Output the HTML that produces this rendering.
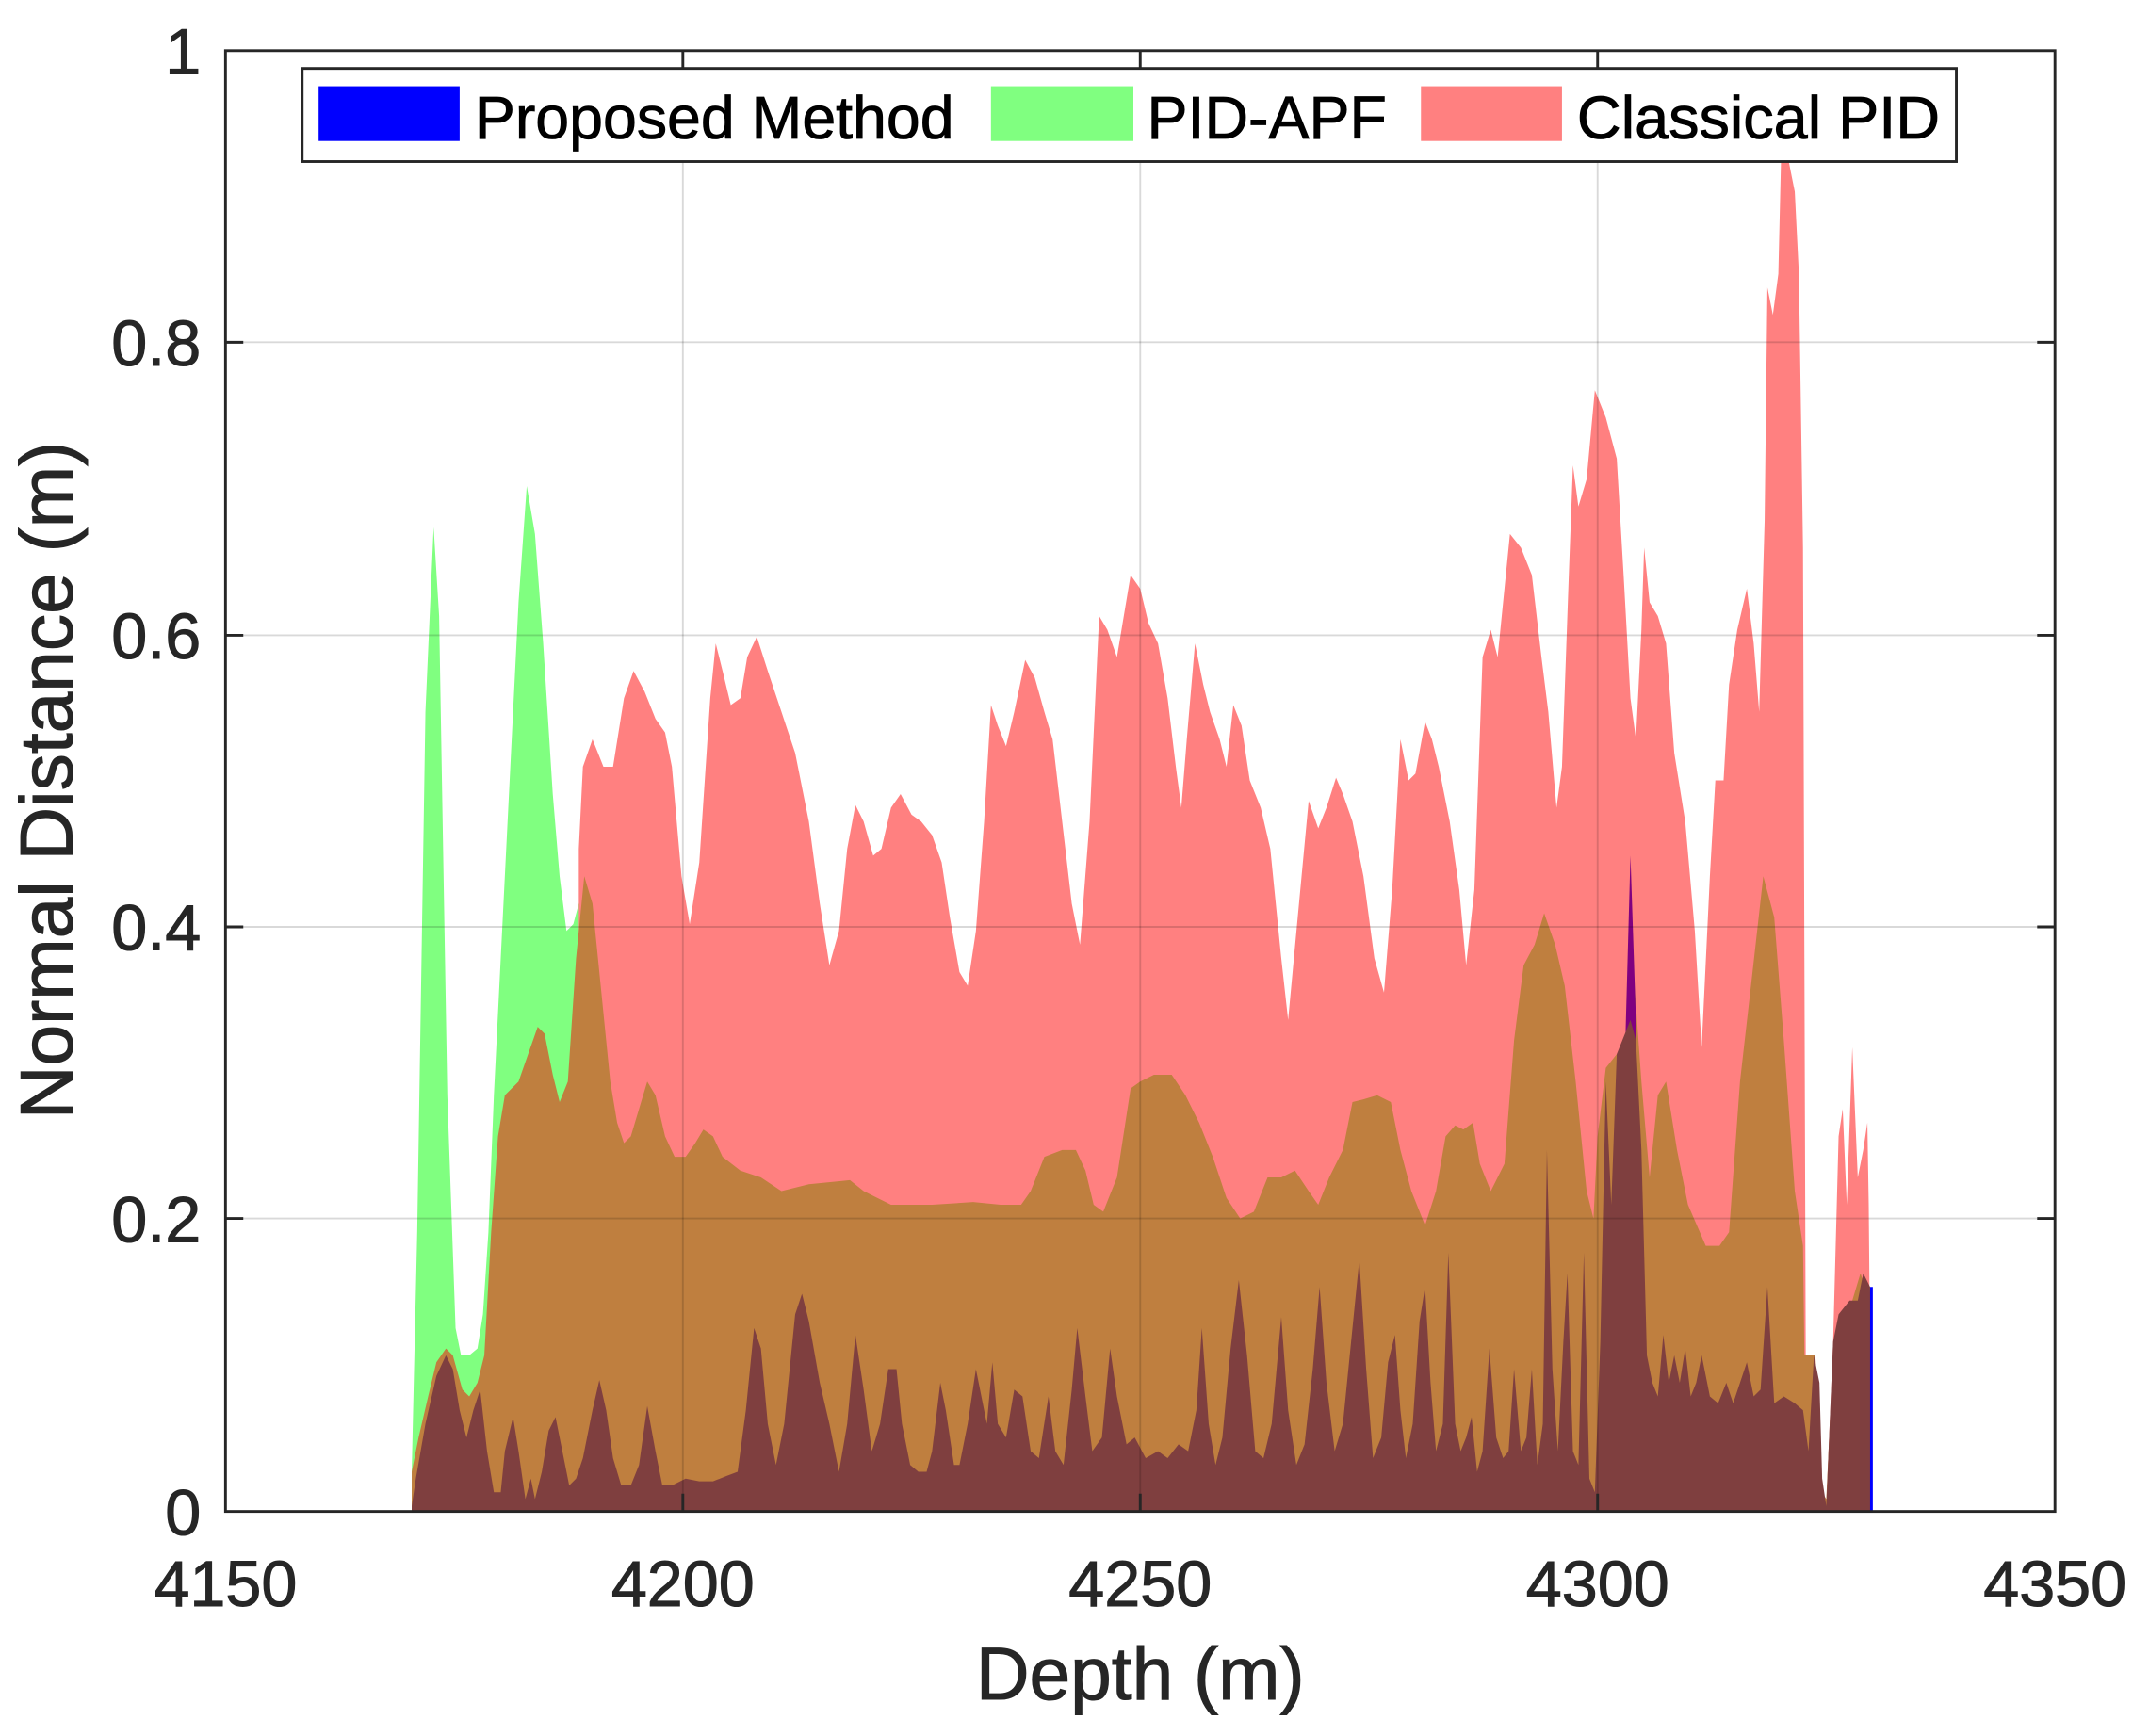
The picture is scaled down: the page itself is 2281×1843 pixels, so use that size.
<!DOCTYPE html>
<html><head><meta charset="utf-8"><style>html,body{margin:0;padding:0;background:#fff;}svg{display:block;}</style></head>
<body>
<svg width="2281" height="1843" viewBox="0 0 1568 1268" xmlns="http://www.w3.org/2000/svg" font-family="Liberation Sans, Arial, sans-serif">
<rect width="1568" height="1268" fill="#fff"/>
<polygon fill="#80ff80" points="300,1104 300,1075 304,900 310,520 316,385 320,450 326,800 332,970 336,990 342,990 348,985 352,960 356,900 360,800 365,700 372,560 378,440 384,355 390,390 396,470 403,580 408,640 413,680 418,675 422,660 426,640 426,1104"/>
<polygon fill="#ff8080" points="422,1104 422,620 425,560 432,540 440,560 447,560 455,510 462,490 470,505 478,525 485,535 490,560 497,640 503,675 510,630 518,510 522,470 527,490 533,515 540,510 545,480 552,465 560,490 570,520 580,550 590,600 598,660 605,705 612,680 618,620 624,588 630,600 637,625 643,620 650,590 657,580 665,595 672,600 680,610 687,630 693,670 700,710 706,720 712,680 718,600 723,515 728,530 734,545 740,520 748,482 755,495 762,520 768,540 775,600 782,660 788,690 795,600 802,450 808,460 815,480 820,450 825,420 832,430 838,455 845,470 852,510 858,560 862,590 866,540 872,470 878,500 883,520 890,540 895,560 900,515 906,530 912,570 920,590 927,620 935,700 940,745 947,670 955,585 962,605 968,590 975,568 980,580 987,600 995,640 1003,700 1010,725 1016,650 1022,540 1028,570 1033,565 1040,527 1045,540 1050,560 1058,600 1065,650 1070,705 1076,650 1082,480 1088,460 1093,480 1098,430 1102,390 1110,400 1118,420 1125,480 1130,520 1136,590 1140,560 1145,420 1148,340 1152,370 1158,350 1164,285 1172,305 1180,335 1185,420 1190,510 1194,540 1198,460 1200,400 1204,440 1210,450 1216,470 1222,550 1230,600 1237,680 1242,765 1248,640 1252,570 1258,570 1262,500 1268,460 1275,430 1280,470 1284,520 1288,380 1290,210 1294,230 1298,200 1300,115 1305,115 1310,140 1313,200 1316,400 1318,990 1325,990 1330,1090 1333,1100 1338,980 1342,830 1345,810 1348,880 1352,765 1356,860 1360,840 1363,820 1364,880 1366,1104"/>
<polygon fill="#bf7f3f" points="300,1104 300,1075 305,1050 312,1020 318,995 325,985 330,990 337,1015 342,1020 348,1010 353,990 358,900 363,830 368,800 373,795 378,790 385,770 392,750 397,755 403,785 408,805 414,790 420,700 426,640 432,660 438,720 445,790 450,820 455,835 460,830 466,810 472,790 478,800 485,830 492,845 500,845 507,835 513,825 520,830 527,845 540,855 555,860 570,870 590,865 620,862 630,870 650,880 680,880 710,878 730,880 745,880 752,870 762,845 775,840 785,840 792,855 798,880 805,885 815,860 825,795 832,790 842,785 855,785 865,800 875,820 885,845 895,875 905,890 915,885 925,860 935,860 945,855 955,870 962,880 970,860 980,840 987,805 995,803 1005,800 1015,805 1022,840 1030,870 1040,895 1048,870 1055,830 1062,822 1068,825 1075,820 1080,850 1088,870 1098,850 1105,760 1112,705 1120,690 1127,667 1135,690 1142,720 1150,790 1158,870 1163,890 1166,830 1172,780 1180,770 1186,760 1193,720 1198,790 1204,860 1210,800 1216,790 1224,840 1232,880 1245,910 1255,910 1262,900 1270,790 1278,720 1287,640 1295,670 1302,760 1310,870 1316,910 1317,990 1325,990 1330,1090 1333,1095 1338,990 1345,960 1352,950 1358,930 1364,950 1366,1104"/>
<polygon fill="#800080" points="1186,770 1190,625 1194,745 1194,800 1186,800"/>
<polygon fill="#7f3f3f" points="300,1104 300,1100 303,1080 310,1040 318,1005 325,990 330,1000 335,1030 340,1050 345,1030 350,1015 355,1060 360,1090 365,1090 368,1060 374,1035 378,1060 383,1095 387,1080 390,1095 395,1075 400,1045 405,1035 410,1060 415,1085 420,1080 425,1065 432,1030 437,1008 442,1030 447,1065 453,1085 460,1085 466,1070 472,1027 478,1060 483,1085 490,1085 500,1080 510,1082 520,1082 530,1078 538,1075 544,1030 550,970 555,985 560,1040 566,1070 572,1040 580,960 585,945 590,965 598,1010 605,1040 612,1075 618,1040 624,975 630,1015 636,1060 642,1040 648,1000 654,1000 658,1040 664,1070 670,1075 676,1075 680,1060 686,1010 690,1030 696,1070 700,1070 706,1040 712,1000 716,1020 720,1040 724,995 728,1040 734,1050 740,1015 746,1020 752,1060 758,1065 765,1020 770,1060 776,1070 782,1015 786,970 792,1020 797,1060 804,1050 810,985 815,1020 822,1055 828,1050 836,1065 845,1060 852,1065 860,1055 867,1060 873,1030 877,970 882,1040 887,1070 892,1050 898,985 904,935 910,990 916,1060 922,1065 928,1040 935,962 940,1030 946,1070 952,1055 958,1000 963,940 968,1010 974,1060 980,1040 986,980 992,920 997,1000 1002,1065 1008,1050 1013,995 1018,975 1022,1030 1026,1065 1031,1040 1036,965 1040,940 1044,1010 1048,1060 1053,1040 1057,915 1062,1040 1066,1060 1070,1050 1074,1035 1078,1075 1082,1060 1087,985 1092,1050 1097,1065 1101,1060 1105,1000 1110,1060 1114,1050 1118,1000 1122,1070 1126,1040 1129,840 1133,1000 1137,1060 1141,980 1144,930 1148,1060 1152,1070 1156,915 1160,1080 1164,1090 1168,980 1172,790 1176,880 1180,770 1184,760 1190,745 1194,760 1198,840 1202,990 1206,1010 1210,1020 1214,975 1218,1010 1222,990 1226,1010 1230,985 1234,1020 1238,1010 1242,990 1248,1020 1254,1025 1260,1010 1265,1025 1270,1010 1275,995 1280,1020 1285,1015 1290,940 1295,1025 1302,1020 1310,1025 1316,1030 1320,1060 1324,990 1328,1010 1330,1080 1333,1100 1338,980 1342,960 1350,950 1356,950 1360,930 1365,940 1366,1104"/>
<line x1="1366" y1="940" x2="1366" y2="1104" stroke="#0000ff" stroke-width="2"/>
<g stroke="#000" stroke-opacity="0.15" stroke-width="1.3">
<line x1="498" y1="37" x2="498" y2="1104"/><line x1="832" y1="37" x2="832" y2="1104"/><line x1="1166" y1="37" x2="1166" y2="1104"/>
<line x1="164" y1="890" x2="1500" y2="890"/><line x1="164" y1="677" x2="1500" y2="677"/><line x1="164" y1="464" x2="1500" y2="464"/><line x1="164" y1="250" x2="1500" y2="250"/>
</g>
<rect x="164" y="37" width="1336" height="1067" fill="none" stroke="#262626" stroke-width="2"/>
<g stroke="#262626" stroke-width="2">
<line x1="498" y1="1104" x2="498" y2="1091"/><line x1="832" y1="1104" x2="832" y2="1091"/><line x1="1166" y1="1104" x2="1166" y2="1091"/>
<line x1="498" y1="37" x2="498" y2="50"/><line x1="832" y1="37" x2="832" y2="50"/><line x1="1166" y1="37" x2="1166" y2="50"/>
<line x1="164" y1="890" x2="177" y2="890"/><line x1="164" y1="677" x2="177" y2="677"/><line x1="164" y1="464" x2="177" y2="464"/><line x1="164" y1="250" x2="177" y2="250"/>
<line x1="1500" y1="890" x2="1487" y2="890"/><line x1="1500" y1="677" x2="1487" y2="677"/><line x1="1500" y1="464" x2="1487" y2="464"/><line x1="1500" y1="250" x2="1487" y2="250"/>
</g>
<g fill="#262626" stroke="#262626" stroke-width="0.7" font-size="47" text-anchor="end">
<text x="146" y="1121">0</text><text x="146" y="907">0.2</text><text x="146" y="694">0.4</text><text x="146" y="481">0.6</text><text x="146" y="267">0.8</text><text x="146" y="54">1</text>
</g>
<g fill="#262626" stroke="#262626" stroke-width="0.7" font-size="47" text-anchor="middle">
<text x="164" y="1173">4150</text><text x="498" y="1173">4200</text><text x="832" y="1173">4250</text><text x="1166" y="1173">4300</text><text x="1500" y="1173">4350</text>
</g>
<text x="832" y="1241" fill="#262626" stroke="#262626" stroke-width="0.7" font-size="54" text-anchor="middle">Depth (m)</text>
<text transform="translate(52,570) rotate(-90)" fill="#262626" stroke="#262626" stroke-width="0.7" font-size="54" text-anchor="middle">Normal Distance (m)</text>
<rect x="220" y="50" width="1208" height="68" fill="#fff" stroke="#262626" stroke-width="2"/>
<rect x="232" y="63" width="103" height="40" fill="#0000ff"/>
<rect x="723" y="63" width="104" height="40" fill="#80ff80"/>
<rect x="1037" y="63" width="103" height="40" fill="#ff8080"/>
<g fill="#000" stroke="#000" stroke-width="0.6" font-size="44">
<text x="346" y="101" textLength="350" lengthAdjust="spacingAndGlyphs">Proposed Method</text><text x="837" y="101" textLength="175" lengthAdjust="spacingAndGlyphs">PID-APF</text><text x="1151" y="101" textLength="265" lengthAdjust="spacingAndGlyphs">Classical PID</text>
</g>
</svg>
</body></html>
